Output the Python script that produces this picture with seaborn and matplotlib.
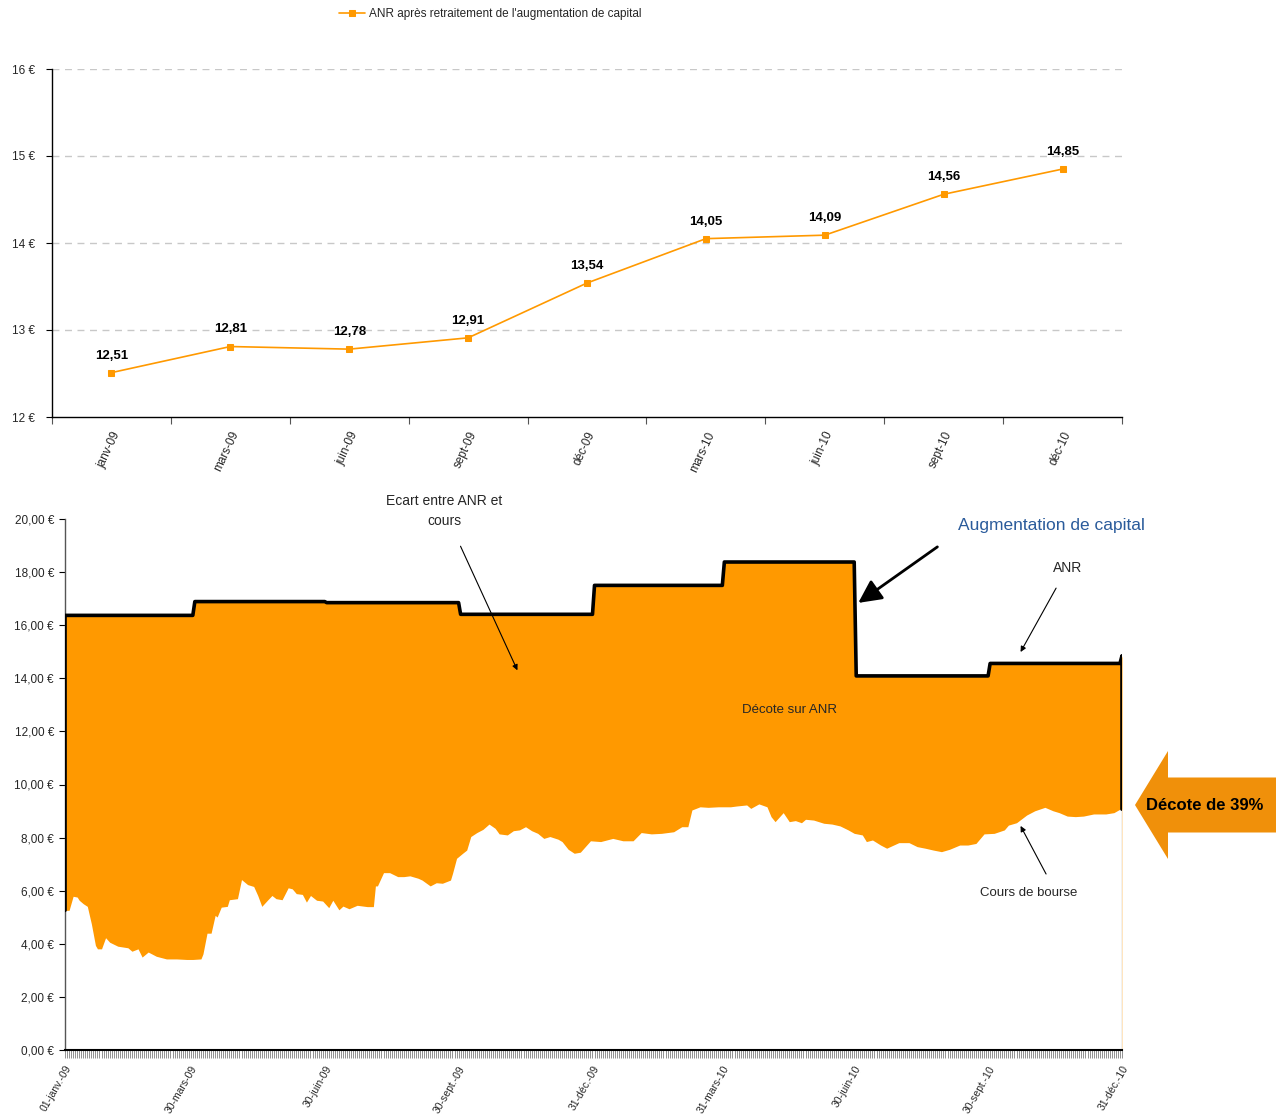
import numpy as np
import pandas as pd
import matplotlib
matplotlib.use("Agg")
import matplotlib.pyplot as plt
import seaborn as sns
from matplotlib.patches import FancyArrow

# ------------------------------------------------------------------ data
anr_mois = ['janv-09', 'mars-09', 'juin-09', 'sept-09', 'déc-09',
            'mars-10', 'juin-10', 'sept-10', 'déc-10']
anr_retraite = [12.51, 12.81, 12.78, 12.91, 13.54, 14.05, 14.09, 14.56, 14.85]

# ANR (before restatement) per quarter, and value on the last day
fin_trimestre = ['2009-03-31', '2009-06-30', '2009-09-30', '2009-12-31',
                 '2010-03-31', '2010-06-30', '2010-09-30', '2010-12-31']
anr_trimestre = [16.37, 16.89, 16.85, 16.41, 17.50, 18.38, 14.09, 14.56]
anr_final = 14.85

# share price readings: trading-day index (from 01-janv-09) and value
cours_jour = [0, 2, 4, 6, 7, 9, 11, 13, 15, 16,
              18, 20, 22, 26, 31, 33, 36, 38, 41, 45,
              50, 55, 60, 63, 67, 68, 70, 72, 74, 75,
              77, 80, 81, 85, 87, 90, 93, 95, 97, 100,
              102, 104, 107, 110, 112, 114, 117, 119, 121, 124,
              127, 130, 132, 135, 137, 140, 144, 149, 152, 153,
              154, 157, 160, 164, 167, 170, 174, 176, 180, 183,
              186, 190, 191, 193, 196, 198, 200, 203, 206, 209,
              212, 214, 218, 221, 224, 227, 230, 233, 236, 239,
              243, 245, 248, 251, 254, 259, 264, 270, 275, 280,
              284, 289, 294, 300, 304, 307, 309, 313, 317, 322,
              328, 331, 336, 338, 342, 346, 348, 350, 354, 357,
              360, 363, 365, 369, 374, 378, 382, 386, 389, 393,
              395, 398, 402, 405, 411, 416, 420, 424, 428, 432,
              436, 441, 445, 449, 453, 458, 463, 465, 469, 474,
              478, 483, 487, 490, 494, 498, 502, 507, 513, 517,
              520, 521]
cours_valeur = [5.26, 5.26, 5.79, 5.76, 5.64, 5.51, 5.41, 4.75, 3.94, 3.81,
                3.81, 4.23, 4.06, 3.91, 3.85, 3.72, 3.81, 3.50, 3.69, 3.53,
                3.43, 3.43, 3.41, 3.41, 3.43, 3.62, 4.40, 4.40, 5.07, 5.01,
                5.38, 5.41, 5.66, 5.70, 6.42, 6.23, 6.16, 5.82, 5.41, 5.66,
                5.82, 5.70, 5.66, 6.11, 6.07, 5.89, 5.86, 5.57, 5.82, 5.64,
                5.61, 5.36, 5.64, 5.28, 5.42, 5.32, 5.45, 5.40, 5.40, 6.18,
                6.18, 6.68, 6.68, 6.53, 6.53, 6.56, 6.47, 6.40, 6.18, 6.30,
                6.28, 6.40, 6.65, 7.22, 7.41, 7.53, 8.04, 8.19, 8.31, 8.51,
                8.35, 8.14, 8.10, 8.26, 8.29, 8.41, 8.26, 8.16, 7.97, 8.04,
                7.94, 7.85, 7.56, 7.41, 7.45, 7.88, 7.85, 7.97, 7.88, 7.88,
                8.19, 8.14, 8.16, 8.22, 8.41, 8.41, 9.04, 9.16, 9.14, 9.16,
                9.16, 9.19, 9.23, 9.10, 9.27, 9.16, 8.79, 8.60, 8.94, 8.60,
                8.64, 8.56, 8.69, 8.66, 8.54, 8.51, 8.44, 8.29, 8.16, 8.10,
                7.85, 7.91, 7.72, 7.60, 7.81, 7.81, 7.66, 7.60, 7.53, 7.47,
                7.56, 7.72, 7.72, 7.78, 8.14, 8.16, 8.29, 8.47, 8.56, 8.85,
                9.01, 9.14, 9.01, 8.94, 8.81, 8.79, 8.81, 8.89, 8.89, 8.94,
                9.07, 9.07]

date_ticks = ['2009-01-01', '2009-03-30', '2009-06-30', '2009-09-30', '2009-12-31',
              '2010-03-31', '2010-06-30', '2010-09-30', '2010-12-31']
date_labels = ['01-janv.-09', '30-mars-09', '30-juin-09', '30-sept.-09', '31-déc.-09',
               '31-mars-10', '30-juin-10', '30-sept.-10', '31-déc.-10']

# ------------------------------------------------------------------ style
sns.set_theme(style="white")
FONT = ['Liberation Sans Narrow', 'Liberation Sans', 'DejaVu Sans']
plt.rcParams['font.family'] = FONT
plt.rcParams['axes.linewidth'] = 1.0
ORANGE = '#FF9900'

fig = plt.figure(figsize=(12.76, 11.16), dpi=100)

# ------------------------------------------------------------------ top chart
ax1 = fig.add_axes([52 / 1276, 1 - 417 / 1116, 1070 / 1276, 348 / 1116])
xs = np.arange(len(anr_mois))
sns.lineplot(x=xs, y=anr_retraite, ax=ax1, color=ORANGE, lw=1.2, marker='s',
             markersize=5, markeredgecolor=ORANGE, estimator=None,
             label="ANR après retraitement de l'augmentation de capital")
for i, v in zip(xs, anr_retraite):
    ax1.annotate(f"{v:.2f}".replace('.', ','), (i, v), xytext=(0, 8),
                 textcoords='offset points', ha='center', va='bottom',
                 fontsize=9.5, fontweight='bold', color='black')
ax1.set_xlim(-0.5, len(anr_mois) - 0.5)
ax1.set_ylim(12, 16)
ax1.set_yticks([12, 13, 14, 15, 16])
ax1.set_yticklabels([f"{t} €" for t in [12, 13, 14, 15, 16]], fontsize=8.5)
for t in [13, 14, 15, 16]:
    ax1.axhline(t, color='#C8C8C8', lw=1, ls=(0, (5, 4)), zorder=0)
ax1.set_xticks(xs)
ax1.set_xticklabels(anr_mois, rotation=65, ha='right', rotation_mode='anchor',
                    fontsize=8.5)
ax1.set_xticks(np.arange(len(anr_mois) + 1) - 0.5, minor=True)
ax1.tick_params(axis='x', which='major', length=0, pad=9, bottom=True)
ax1.tick_params(axis='x', which='minor', length=5, width=0.8, color='#555555',
                direction='out', bottom=True)
ax1.tick_params(axis='y', length=4, width=0.8, color='black', direction='out',
                left=True, pad=8)
for s in ['top', 'right']:
    ax1.spines[s].set_visible(False)
for s in ['left', 'bottom']:
    ax1.spines[s].set_color('black')
ax1.set_xlabel('')
ax1.set_ylabel('')
ax1.legend(loc='center', bbox_to_anchor=(490 / 1276, 1 - 14 / 1116),
           bbox_transform=fig.transFigure, frameon=False, fontsize=8.5,
           handlelength=2.2, handletextpad=0.3)

# ------------------------------------------------------------------ bottom chart
jours = pd.bdate_range('2009-01-01', '2010-12-31')
n = len(jours)
q = np.searchsorted(pd.to_datetime(fin_trimestre), jours, side='left')
anr_jour = np.array(anr_trimestre)[np.minimum(q, len(anr_trimestre) - 1)]
anr_jour[-1] = anr_final
idx = np.arange(n)

ax2 = fig.add_axes([65 / 1276, 1 - 1050 / 1116, (1122 - 65) / 1276, 531 / 1116])
ax2.fill_between(idx, 0, anr_jour, color=ORANGE, lw=0, zorder=1)
ax2.fill_between(cours_jour, 0, cours_valeur, color='white', lw=0, zorder=1.5)
contour = pd.DataFrame({
    'jour': np.r_[0, idx, n - 1],
    'anr': np.r_[cours_valeur[0], anr_jour, cours_valeur[-1]],
})
sns.lineplot(data=contour, x='jour', y='anr', sort=False, estimator=None,
             ax=ax2, color='black', lw=2.6, zorder=3)
ax2.plot([n - 1, n - 1], [0, cours_valeur[-1]], color='black', lw=0.8, zorder=3)

ax2.set_xlim(0, n - 1)
ax2.set_ylim(0, 20)
yt = np.arange(0, 21, 2)
ax2.set_yticks(yt)
ax2.set_yticklabels([f"{t:.2f}".replace('.', ',') + " €" for t in yt], fontsize=8.5)
tick_pos = [jours.get_loc(pd.Timestamp(d)) for d in date_ticks]
ax2.set_xticks(tick_pos)
ax2.set_xticklabels(date_labels, rotation=60, ha='right', rotation_mode='anchor',
                    fontsize=7.5)
ax2.set_xticks(idx, minor=True)
ax2.tick_params(axis='x', which='major', length=6, width=0.5, color='#666666',
                pad=4, bottom=True)
ax2.tick_params(axis='x', which='minor', length=6, width=0.5, color='#666666',
                direction='out', bottom=True)
ax2.tick_params(axis='y', length=4, width=0.8, color='black', direction='out',
                left=True, pad=4)
for s in ['top', 'right']:
    ax2.spines[s].set_visible(False)
ax2.spines['left'].set_color('#555555')
ax2.spines['bottom'].set_color('black')
ax2.spines['bottom'].set_linewidth(1.5)
ax2.set_xlabel('')
ax2.set_ylabel('')

# annotations
ax2.annotate("Ecart entre ANR et\ncours", xy=(223, 14.3), xytext=(187, 20.3),
             ha='center', va='center', fontsize=10, linespacing=1.5,
             annotation_clip=False,
             arrowprops=dict(arrowstyle='-|>', color='black', lw=0.8,
                             shrinkA=12, shrinkB=0, mutation_scale=8))
ax2.text(486, 19.77, "Augmentation de capital", ha='center', va='center',
         fontsize=12.5, color='#2A5B9B', clip_on=False)
ax2.annotate("", xy=(391, 16.84), xytext=(430, 18.95),
             arrowprops=dict(arrowstyle='-|>,head_length=1.0,head_width=0.5',
                             color='black', lw=2.0, shrinkA=0, shrinkB=0,
                             mutation_scale=14))
ax2.annotate("ANR", xy=(471, 14.99), xytext=(494, 18.15), ha='center',
             va='center', fontsize=10,
             arrowprops=dict(arrowstyle='-|>', color='black', lw=0.8,
                             shrinkA=8, shrinkB=0, mutation_scale=8))
ax2.text(357, 12.81, "Décote sur ANR", ha='center', va='center', fontsize=9.5)
ax2.annotate("Cours de bourse", xy=(471, 8.44), xytext=(475, 5.91), ha='center',
             va='center', fontsize=9.5,
             arrowprops=dict(arrowstyle='-|>', color='black', lw=0.8,
                             shrinkA=8, shrinkB=0, mutation_scale=8,
                             relpos=(0.75, 1.0)))

# big left-pointing arrow on the right edge
tip_x, mid_y = 1135 / 1276, 1 - 805 / 1116
big = FancyArrow(1.02, mid_y, tip_x - 1.02, 0, width=55 / 1116,
                 head_width=108 / 1116, head_length=33 / 1276,
                 length_includes_head=True, transform=fig.transFigure,
                 color='#F0900A', lw=0, clip_on=False)
fig.add_artist(big)
fig.text(1146 / 1276, mid_y, "Décote de 39%", ha='left', va='center',
         fontsize=12, fontweight='bold', color='black')

fig.savefig("out.png", dpi=100)
